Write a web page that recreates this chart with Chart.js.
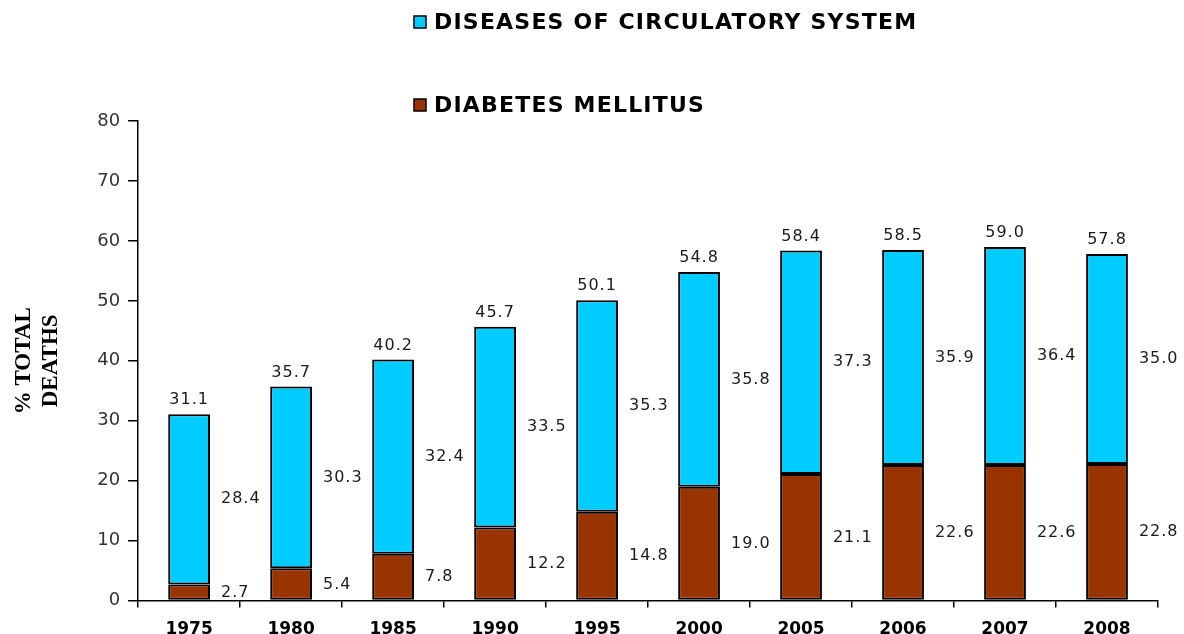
<!DOCTYPE html>
<html>
<head>
<meta charset="utf-8">
<script src="https://cdn.jsdelivr.net/npm/chart.js@4/dist/chart.umd.min.js"></script>
<style>
    html, body { margin: 0; padding: 0; background: #fff; overflow: hidden; }
    #wrap { position: relative; width: 1184px; height: 652px; }
</style>
</head>
<body>
<div id="wrap"><canvas id="deathsChart"></canvas></div>
<script>
const years = ["1975", "1980", "1985", "1990", "1995", "2000", "2005", "2006", "2007", "2008"];
const diabetesValues = [2.7, 5.4, 7.8, 12.2, 14.8, 19.0, 21.1, 22.6, 22.6, 22.8];
const circulatoryValues = [28.4, 30.3, 32.4, 33.5, 35.3, 35.8, 37.3, 35.9, 36.4, 35.0];
const totalValues = [31.1, 35.7, 40.2, 45.7, 50.1, 54.8, 58.4, 58.5, 59.0, 57.8];
const seriesNames = ["DISEASES OF CIRCULATORY SYSTEM", "DIABETES MELLITUS"];

const CYAN = "#00ccff";
const BROWN = "#993300";

// legend drawn as two stacked rows above the plot
const legendRows = {
    id: "legendRows",
    afterDraw(chart) {
        const ctx = chart.ctx;
        const items = [
            {text: seriesNames[0], color: CYAN, y: 22},
            {text: seriesNames[1], color: BROWN, y: 105}
        ];
        ctx.save();
        ctx.font = "bold 22px 'DejaVu Sans'";
        ctx.textBaseline = "middle";
        ctx.letterSpacing = "1.2px";
        items.forEach(it => {
            ctx.fillStyle = it.color;
            ctx.fillRect(414, it.y - 6, 12, 12);
            ctx.strokeStyle = "#000";
            ctx.lineWidth = 1.5;
            ctx.strokeRect(414, it.y - 6, 12, 12);
            ctx.fillStyle = "#000";
            ctx.fillText(it.text, 434, it.y + 1);
        });
        ctx.restore();
    }
};

// value labels: totals above each bar, segment values beside it
const valueLabels = {
    id: "valueLabels",
    afterDatasetsDraw(chart) {
        const ctx = chart.ctx;
        const y = chart.scales.y;
        const topMeta = chart.getDatasetMeta(1);
        ctx.save();
        ctx.font = "16px 'DejaVu Sans'";
        ctx.letterSpacing = "1px";
        ctx.fillStyle = "#1a1a1a";
        ctx.textBaseline = "middle";
        years.forEach((yr, i) => {
            const bar = topMeta.data[i];
            const right = bar.x + bar.width / 2;
            ctx.textAlign = "center";
            ctx.fillText(totalValues[i].toFixed(1), bar.x, bar.y - 14);
            ctx.textAlign = "left";
            const midTop = y.getPixelForValue(diabetesValues[i] + circulatoryValues[i] / 2);
            ctx.fillText(circulatoryValues[i].toFixed(1), right + 11, midTop);
            const midBottom = y.getPixelForValue(diabetesValues[i] / 2);
            ctx.fillText(diabetesValues[i].toFixed(1), right + 11, midBottom);
        });
        ctx.restore();
    }
};

const ctx = document.getElementById("deathsChart").getContext("2d");
new Chart(ctx, {
    type: "bar",
    data: {
        labels: years,
        datasets: [
            {
                label: seriesNames[1],
                data: diabetesValues,
                backgroundColor: BROWN,
                borderColor: "#000",
                borderWidth: 2,
                borderSkipped: false,
                barPercentage: 0.41,
                categoryPercentage: 1
            },
            {
                label: seriesNames[0],
                data: circulatoryValues,
                backgroundColor: CYAN,
                borderColor: "#000",
                borderWidth: 2,
                borderSkipped: false,
                barPercentage: 0.41,
                categoryPercentage: 1
            }
        ]
    },
    options: {
        responsive: true,
        maintainAspectRatio: false,
        animation: false,
        layout: {padding: {top: 121, right: 26, left: 10, bottom: 0}},
        scales: {
            x: {
                stacked: true,
                grid: {drawOnChartArea: false, drawTicks: true, tickLength: 7, offset: true, color: "#000", lineWidth: 1.5},
                border: {color: "#000", width: 1.5},
                ticks: {font: {family: "'DejaVu Sans'", size: 17, weight: "bold"}, color: "#000", padding: 12}
            },
            y: {
                stacked: true,
                min: 0,
                max: 80,
                grid: {drawOnChartArea: false, drawTicks: true, tickLength: 10, color: "#000", lineWidth: 1.5},
                border: {color: "#000", width: 1.5},
                ticks: {stepSize: 10, font: {family: "'DejaVu Sans'", size: 18}, color: "#333", padding: 8},
                title: {
                    display: true,
                    text: ["% TOTAL", "DEATHS"],
                    font: {family: "'Liberation Serif'", size: 23, weight: "bold"},
                    color: "#000",
                    padding: {top: 0, bottom: 24},
                    lineHeight: 0.95
                }
            }
        },
        plugins: {
            legend: {display: false},
            tooltip: {enabled: false}
        }
    },
    plugins: [legendRows, valueLabels]
});
</script>
</body>
</html>
